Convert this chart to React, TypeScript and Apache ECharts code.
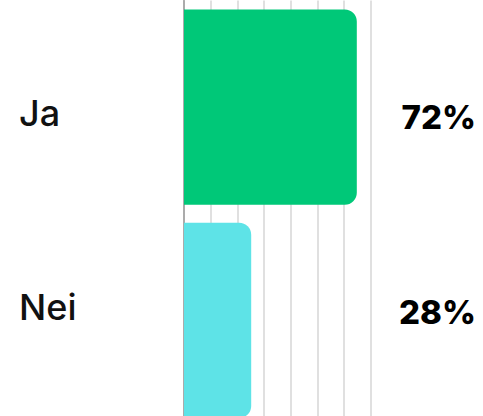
import React, { useEffect, useRef } from "react";
import * as echarts from "echarts";

const categories = ["Ja", "Nei"];
const values = [72, 28];
const valueLabels = ["72%", "28%"];

const PALETTE = ["#00C878", "#5EE3E7"];
const STEP = 100 / 9;

export default function App() {
  const ref = useRef<HTMLDivElement>(null);
  useEffect(() => {
    if (!ref.current) return;
    const chart = echarts.init(ref.current, undefined, { renderer: "svg" });
    const font = "Inter, 'Noto Sans', sans-serif";
    chart.setOption({
      animation: false,
      grid: { left: 184, right: 483 - 370.67, top: 0.5, bottom: 0, containLabel: false },
      xAxis: {
        type: "value",
        min: 0,
        max: STEP * 7,
        interval: STEP,
        axisLabel: { show: false },
        axisLine: { show: false },
        axisTick: { show: false },
        splitLine: { show: true, lineStyle: { color: "#d6d6d6", width: 1.5 } },
      },
      yAxis: [
        {
          type: "category",
          inverse: true,
          data: categories,
          position: "left",
          axisLine: { show: true, lineStyle: { color: "#9a9a9a", width: 1.5 } },
          axisTick: { show: false },
          axisLabel: {
            align: "left",
            margin: 165,
            color: "#111",
            formatter: (v: string, i: number) => (i === 0 ? `{a|${v}}` : `{b|${v}}`),
            rich: {
              a: { fontSize: 36, fontWeight: 500, fontFamily: font, color: "#111", padding: [12, 0, 0, 0] },
              b: { fontSize: 36, fontWeight: 500, fontFamily: font, color: "#111", padding: [0, 0, 26, 0] },
            },
          },
        },
        {
          type: "category",
          inverse: true,
          data: categories,
          position: "right",
          axisLine: { show: false },
          axisTick: { show: false },
          axisLabel: {
            align: "right",
            margin: 476 - 370.67,
            color: "#000",
            formatter: (_v: string, i: number) =>
              i === 0 ? `{a|${valueLabels[i]}}` : `{b|${valueLabels[i]}}`,
            rich: {
              a: { fontSize: 33, fontWeight: 800, fontFamily: font, color: "#000", padding: [20, 0, 0, 0] },
              b: { fontSize: 33, fontWeight: 800, fontFamily: font, color: "#000", padding: [0, 0, 16, 0] },
            },
          },
        },
      ],
      series: [
        {
          type: "bar",
          yAxisIndex: 0,
          data: values,
          barCategoryGap: "8.5%",
          itemStyle: {
            color: (p: any) => PALETTE[p.dataIndex],
            borderRadius: [0, 12, 12, 0],
          },
        },
      ],
    });
    return () => chart.dispose();
  }, []);
  return (
    <div style={{ position: "absolute", left: 0, top: 0, width: 483, height: 416, overflow: "hidden" }}>
      <div ref={ref} style={{ width: 483, height: 427 }} />
    </div>
  );
}
